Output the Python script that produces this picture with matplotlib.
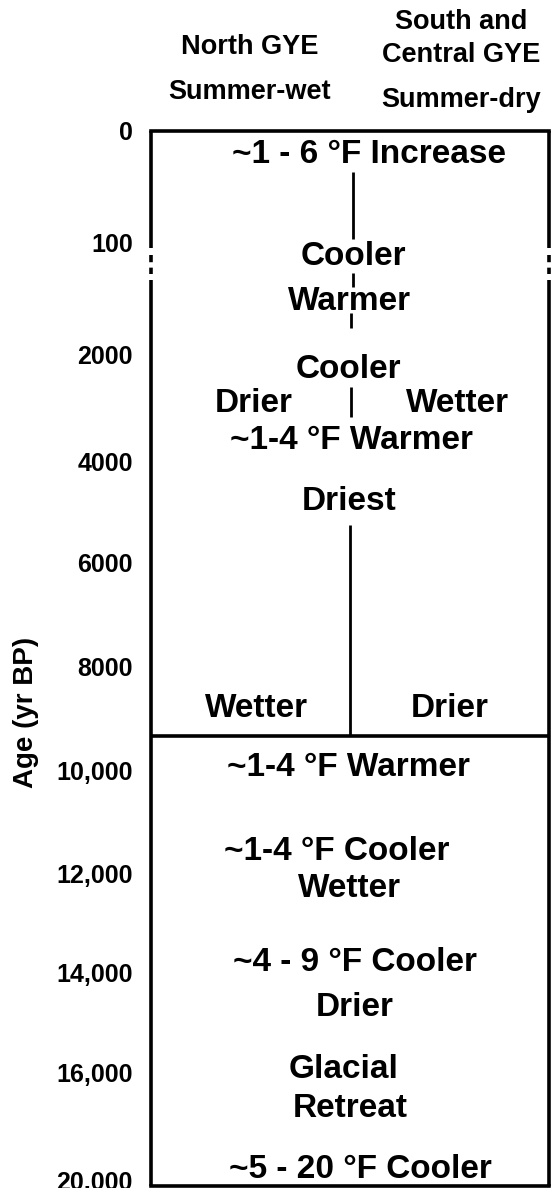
import matplotlib
matplotlib.use("Agg")
from matplotlib import pyplot as plt

plt.rcParams['font.family'] = ['Liberation Sans', 'DejaVu Sans']
plt.rcParams['font.weight'] = 'bold'

# y axis: rows of the age column (non-linear, with a break between 100 and 2000)
tick_labels = ["0", "100", "2000", "4000", "6000", "8000", "10,000",
               "12,000", "14,000", "16,000", "20,000"]
tick_rows = [0.0, 1.06, 2.13, 3.15, 4.11, 5.10, 6.09, 7.07, 8.02, 8.97, 10.0]
row_max = 10.05

# column headers (x as fraction of the box width, y in rows above the box)
headers = ["North GYE", "Summer-wet", "South and", "Central GYE", "Summer-dry"]
header_x = [0.248, 0.248, 0.779, 0.779, 0.779]
header_y = [-0.80, -0.37, -1.04, -0.72, -0.30]

# notes inside the box
notes = ["~1 - 6 °F Increase", "Cooler", "Warmer", "Cooler", "Drier", "Wetter",
         "~1-4 °F Warmer", "Driest", "Wetter", "Drier", "~1-4 °F Warmer",
         "~1-4 °F Cooler", "Wetter", "~4 - 9 °F Cooler", "Drier", "Glacial",
         "Retreat", "~5 - 20 °F Cooler"]
note_x = [0.548, 0.508, 0.500, 0.495, 0.259, 0.769, 0.503, 0.497, 0.264, 0.751,
          0.495, 0.467, 0.500, 0.513, 0.513, 0.485, 0.500, 0.525]
note_y = [0.22, 1.20, 1.62, 2.27, 2.60, 2.60, 2.95, 3.53, 5.50, 5.50, 6.06,
          6.86, 7.22, 7.92, 8.35, 8.94, 9.31, 9.89]

# connecting lines in the middle column
link_x = [0.508, 0.508, 0.503, 0.503, 0.500]
link_top = [0.39, 1.35, 1.73, 2.44, 3.75]
link_bottom = [1.03, 1.49, 1.88, 2.72, 5.76]

divider_row = 5.76           # Holocene / late glacial boundary
break_rows = (1.11, 1.42)    # axis break between 100 and 2000

fig = plt.figure(figsize=(5.51, 11.88), dpi=100)
ax = fig.add_axes([151 / 551, 2 / 1188, 398 / 551, 1055 / 1188])
ax.set_xlim(0, 1)
ax.set_ylim(row_max, 0)

for side in ['left', 'right']:
    ax.spines[side].set_visible(False)
for side in ['top', 'bottom']:
    ax.spines[side].set_linewidth(2.6)

ax.set_xticks([])
ax.set_yticks(tick_rows, tick_labels, fontsize=18, fontweight='bold')
ax.tick_params(axis='y', length=0, pad=13)

# box sides with the break marks
for xs in [0, 1]:
    ax.plot([xs, xs], [0, break_rows[0]], color='black', lw=2.6, clip_on=False,
            solid_capstyle='butt')
    ax.plot([xs, xs], [break_rows[1], row_max], color='black', lw=2.6, clip_on=False,
            solid_capstyle='butt')
    ax.plot([xs, xs], [break_rows[0] + 0.07, break_rows[1] - 0.06], color='black',
            lw=2.6, clip_on=False, linestyle=(0, (2.0, 1.5)), solid_capstyle='butt')

for x, y0, y1 in zip(link_x, link_top, link_bottom):
    ax.plot([x, x], [y0, y1], color='black', lw=2.0, solid_capstyle='butt')
ax.axhline(divider_row, color='black', lw=2.6)

for txt, x, y in zip(notes, note_x, note_y):
    ax.text(x, y, txt, ha='center', va='center', fontsize=24, fontweight='bold')

for txt, x, y in zip(headers, header_x, header_y):
    ax.text(x, y, txt, ha='center', va='center', fontsize=19.5, fontweight='bold',
            clip_on=False)

fig.text(26 / 551, 1 - 712 / 1188, "Age (yr BP)", rotation=90, ha='center',
         va='center', fontsize=20, fontweight='bold')

plt.savefig('out.png', dpi=100)
